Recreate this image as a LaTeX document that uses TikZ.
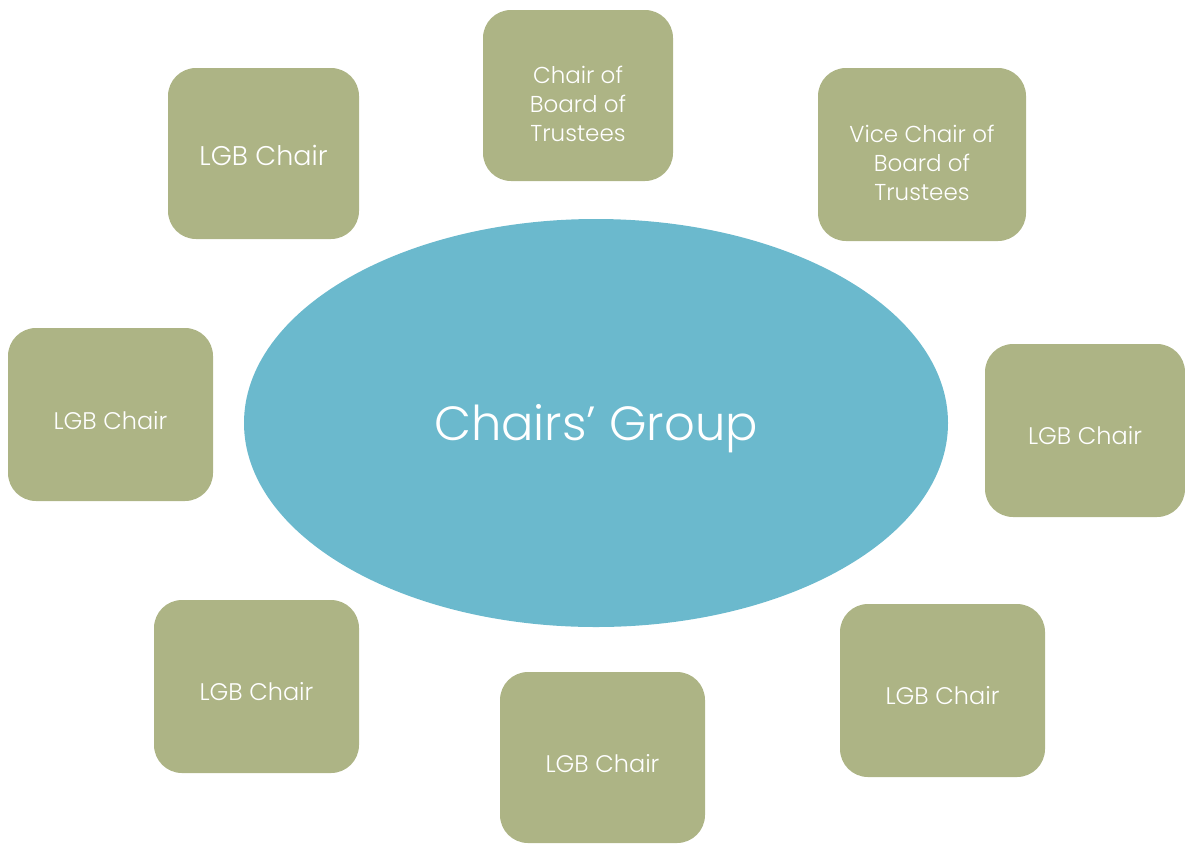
\documentclass[tikz,border=0pt]{standalone}
\usepackage{fontspec}
\setmainfont{Poppins Light}
\usetikzlibrary{shapes.geometric}
\definecolor{boxgreen}{RGB}{173,180,133}
\definecolor{ovalblue}{RGB}{107,185,205}
\tikzset{
  box/.style={fill=boxgreen, draw=none, rounded corners=28pt, inner sep=0pt},
  lbl/.style={text=white, font=\fontsize{23}{29}\selectfont, align=center, inner sep=0pt},
  lgb/.style={lbl, font=\fontsize{24}{29}\selectfont},
  oval/.style={ellipse, fill=ovalblue, draw=none, inner sep=0pt}
}
\begin{document}
\begin{tikzpicture}[x=1pt,y=-1pt]
\useasboundingbox (0,0) rectangle (1185,844);
\node[oval, minimum width=704pt, minimum height=408pt] (grp) at (596,423) {};
\node[text=white, font=\fontsize{48}{58}\selectfont, inner sep=0pt] (grpt) at ([yshift=-6pt]grp.center) {Chairs’ Group};

\node[box, minimum width=191pt, minimum height=171pt] (a) at (263.5,153.5) {};
\node[box, minimum width=190pt, minimum height=171pt] (b) at (578,95.5) {};
\node[box, minimum width=208pt, minimum height=173pt] (c) at (922,154.5) {};
\node[box, minimum width=205pt, minimum height=173pt] (d) at (110.5,414.5) {};
\node[box, minimum width=200pt, minimum height=173pt] (e) at (1085,430.5) {};
\node[box, minimum width=205pt, minimum height=173pt] (f) at (256.5,686.5) {};
\node[box, minimum width=205pt, minimum height=171pt] (g) at (602.5,757.5) {};
\node[box, minimum width=205pt, minimum height=173pt] (h) at (942.5,690.5) {};

\node[lgb, font=\fontsize{27}{32}\selectfont] (at) at ([yshift=-2pt]a.center) {LGB Chair};
\node[lbl] (bt) at ([yshift=-8pt]b.center) {Chair of\\Board of\\Trustees};
\node[lbl] (ct) at ([yshift=-8pt]c.center) {Vice Chair of\\Board of\\Trustees};
\node[lgb] (dt) at ([yshift=-6pt]d.center) {LGB Chair};
\node[lgb] (et) at ([yshift=-5pt]e.center) {LGB Chair};
\node[lgb] (ft) at ([yshift=-5pt]f.center) {LGB Chair};
\node[lgb] (gt) at ([yshift=-6pt]g.center) {LGB Chair};
\node[lgb] (ht) at ([yshift=-5pt]h.center) {LGB Chair};
\end{tikzpicture}
\end{document}
